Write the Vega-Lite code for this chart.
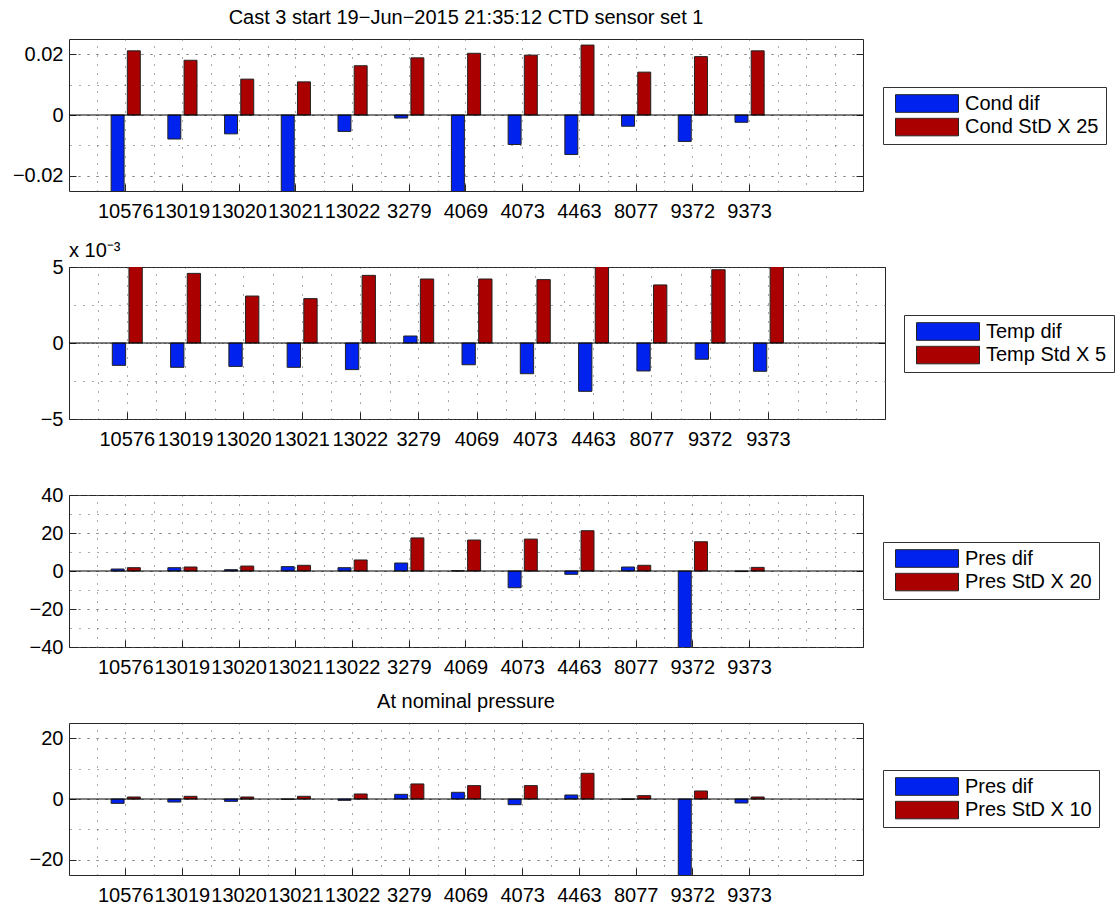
{
  "$schema": "https://vega.github.io/schema/vega-lite/v6.json",
  "padding": {"left": 11, "top": 7, "right": 5, "bottom": 5},
  "bounds": "flush",
  "spacing": 76,
  "config": {
    "font": "Liberation Sans",
    "view": {"stroke": "#262626", "strokeWidth": 1},
    "axis": {
      "domain": false,
      "labelFont": "Liberation Sans",
      "labelFontSize": 20,
      "labelColor": "#000",
      "tickColor": "#262626",
      "tickSize": -7,
      "tickWidth": 1,
      "gridColor": "#555",
      "gridDash": [1, 8],
      "gridWidth": 1,
      "gridOpacity": 1
    },
    "title": {"font": "Liberation Sans", "fontSize": 20, "fontWeight": "normal", "color": "#000"},
    "legend": {
      "symbolType": "M-1,-0.28H1V0.28H-1Z",
      "symbolSize": 3969,
      "symbolStrokeColor": "#222",
      "symbolStrokeWidth": 1,
      "symbolOpacity": 1,
      "symbolOffset": 5,
      "labelFont": "Liberation Sans",
      "labelFontSize": 20,
      "labelColor": "#000",
      "labelOffset": 6,
      "labelLimit": 300,
      "padding": 7,
      "rowPadding": 2.5,
      "clipHeight": 19,
      "strokeColor": "#333",
      "fillColor": "#fff"
    },
    "bar": {"stroke": "#222", "strokeWidth": 1}
  },
  "data": {"values": [
    {"panel": "cond", "sensor": "10576", "kind": "dif", "series": "Cond dif", "value": -0.035},
    {"panel": "cond", "sensor": "13019", "kind": "dif", "series": "Cond dif", "value": -0.0079},
    {"panel": "cond", "sensor": "13020", "kind": "dif", "series": "Cond dif", "value": -0.0062},
    {"panel": "cond", "sensor": "13021", "kind": "dif", "series": "Cond dif", "value": -0.035},
    {"panel": "cond", "sensor": "13022", "kind": "dif", "series": "Cond dif", "value": -0.0054},
    {"panel": "cond", "sensor": "3279", "kind": "dif", "series": "Cond dif", "value": -0.001},
    {"panel": "cond", "sensor": "4069", "kind": "dif", "series": "Cond dif", "value": -0.035},
    {"panel": "cond", "sensor": "4073", "kind": "dif", "series": "Cond dif", "value": -0.0097},
    {"panel": "cond", "sensor": "4463", "kind": "dif", "series": "Cond dif", "value": -0.013},
    {"panel": "cond", "sensor": "8077", "kind": "dif", "series": "Cond dif", "value": -0.0037},
    {"panel": "cond", "sensor": "9372", "kind": "dif", "series": "Cond dif", "value": -0.0087},
    {"panel": "cond", "sensor": "9373", "kind": "dif", "series": "Cond dif", "value": -0.0024},
    {"panel": "cond", "sensor": "10576", "kind": "std", "series": "Cond StD X 25", "value": 0.0211},
    {"panel": "cond", "sensor": "13019", "kind": "std", "series": "Cond StD X 25", "value": 0.0180},
    {"panel": "cond", "sensor": "13020", "kind": "std", "series": "Cond StD X 25", "value": 0.0118},
    {"panel": "cond", "sensor": "13021", "kind": "std", "series": "Cond StD X 25", "value": 0.0109},
    {"panel": "cond", "sensor": "13022", "kind": "std", "series": "Cond StD X 25", "value": 0.0162},
    {"panel": "cond", "sensor": "3279", "kind": "std", "series": "Cond StD X 25", "value": 0.0188},
    {"panel": "cond", "sensor": "4069", "kind": "std", "series": "Cond StD X 25", "value": 0.0203},
    {"panel": "cond", "sensor": "4073", "kind": "std", "series": "Cond StD X 25", "value": 0.0197},
    {"panel": "cond", "sensor": "4463", "kind": "std", "series": "Cond StD X 25", "value": 0.0230},
    {"panel": "cond", "sensor": "8077", "kind": "std", "series": "Cond StD X 25", "value": 0.0141},
    {"panel": "cond", "sensor": "9372", "kind": "std", "series": "Cond StD X 25", "value": 0.0192},
    {"panel": "cond", "sensor": "9373", "kind": "std", "series": "Cond StD X 25", "value": 0.0211},

    {"panel": "temp", "sensor": "10576", "kind": "dif", "series": "Temp dif", "value": -0.00147},
    {"panel": "temp", "sensor": "13019", "kind": "dif", "series": "Temp dif", "value": -0.0016},
    {"panel": "temp", "sensor": "13020", "kind": "dif", "series": "Temp dif", "value": -0.00154},
    {"panel": "temp", "sensor": "13021", "kind": "dif", "series": "Temp dif", "value": -0.0016},
    {"panel": "temp", "sensor": "13022", "kind": "dif", "series": "Temp dif", "value": -0.00175},
    {"panel": "temp", "sensor": "3279", "kind": "dif", "series": "Temp dif", "value": 0.00046},
    {"panel": "temp", "sensor": "4069", "kind": "dif", "series": "Temp dif", "value": -0.00143},
    {"panel": "temp", "sensor": "4073", "kind": "dif", "series": "Temp dif", "value": -0.00202},
    {"panel": "temp", "sensor": "4463", "kind": "dif", "series": "Temp dif", "value": -0.00318},
    {"panel": "temp", "sensor": "8077", "kind": "dif", "series": "Temp dif", "value": -0.00184},
    {"panel": "temp", "sensor": "9372", "kind": "dif", "series": "Temp dif", "value": -0.00107},
    {"panel": "temp", "sensor": "9373", "kind": "dif", "series": "Temp dif", "value": -0.00186},
    {"panel": "temp", "sensor": "10576", "kind": "std", "series": "Temp Std X 5", "value": 0.0055},
    {"panel": "temp", "sensor": "13019", "kind": "std", "series": "Temp Std X 5", "value": 0.00458},
    {"panel": "temp", "sensor": "13020", "kind": "std", "series": "Temp Std X 5", "value": 0.00309},
    {"panel": "temp", "sensor": "13021", "kind": "std", "series": "Temp Std X 5", "value": 0.00292},
    {"panel": "temp", "sensor": "13022", "kind": "std", "series": "Temp Std X 5", "value": 0.00445},
    {"panel": "temp", "sensor": "3279", "kind": "std", "series": "Temp Std X 5", "value": 0.00421},
    {"panel": "temp", "sensor": "4069", "kind": "std", "series": "Temp Std X 5", "value": 0.00421},
    {"panel": "temp", "sensor": "4073", "kind": "std", "series": "Temp Std X 5", "value": 0.00417},
    {"panel": "temp", "sensor": "4463", "kind": "std", "series": "Temp Std X 5", "value": 0.0055},
    {"panel": "temp", "sensor": "8077", "kind": "std", "series": "Temp Std X 5", "value": 0.00382},
    {"panel": "temp", "sensor": "9372", "kind": "std", "series": "Temp Std X 5", "value": 0.00482},
    {"panel": "temp", "sensor": "9373", "kind": "std", "series": "Temp Std X 5", "value": 0.0055},

    {"panel": "pres20", "sensor": "10576", "kind": "dif", "series": "Pres dif", "value": 1.05},
    {"panel": "pres20", "sensor": "13019", "kind": "dif", "series": "Pres dif", "value": 1.75},
    {"panel": "pres20", "sensor": "13020", "kind": "dif", "series": "Pres dif", "value": 0.7},
    {"panel": "pres20", "sensor": "13021", "kind": "dif", "series": "Pres dif", "value": 2.3},
    {"panel": "pres20", "sensor": "13022", "kind": "dif", "series": "Pres dif", "value": 1.75},
    {"panel": "pres20", "sensor": "3279", "kind": "dif", "series": "Pres dif", "value": 4.2},
    {"panel": "pres20", "sensor": "4069", "kind": "dif", "series": "Pres dif", "value": 0.1},
    {"panel": "pres20", "sensor": "4073", "kind": "dif", "series": "Pres dif", "value": -8.8},
    {"panel": "pres20", "sensor": "4463", "kind": "dif", "series": "Pres dif", "value": -1.75},
    {"panel": "pres20", "sensor": "8077", "kind": "dif", "series": "Pres dif", "value": 2.1},
    {"panel": "pres20", "sensor": "9372", "kind": "dif", "series": "Pres dif", "value": -60},
    {"panel": "pres20", "sensor": "9373", "kind": "dif", "series": "Pres dif", "value": -0.3},
    {"panel": "pres20", "sensor": "10576", "kind": "std", "series": "Pres StD X 20", "value": 1.75},
    {"panel": "pres20", "sensor": "13019", "kind": "std", "series": "Pres StD X 20", "value": 2.1},
    {"panel": "pres20", "sensor": "13020", "kind": "std", "series": "Pres StD X 20", "value": 2.6},
    {"panel": "pres20", "sensor": "13021", "kind": "std", "series": "Pres StD X 20", "value": 3.0},
    {"panel": "pres20", "sensor": "13022", "kind": "std", "series": "Pres StD X 20", "value": 5.8},
    {"panel": "pres20", "sensor": "3279", "kind": "std", "series": "Pres StD X 20", "value": 17.4},
    {"panel": "pres20", "sensor": "4069", "kind": "std", "series": "Pres StD X 20", "value": 16.3},
    {"panel": "pres20", "sensor": "4073", "kind": "std", "series": "Pres StD X 20", "value": 16.8},
    {"panel": "pres20", "sensor": "4463", "kind": "std", "series": "Pres StD X 20", "value": 21.2},
    {"panel": "pres20", "sensor": "8077", "kind": "std", "series": "Pres StD X 20", "value": 3.0},
    {"panel": "pres20", "sensor": "9372", "kind": "std", "series": "Pres StD X 20", "value": 15.4},
    {"panel": "pres20", "sensor": "9373", "kind": "std", "series": "Pres StD X 20", "value": 1.9},

    {"panel": "pres10", "sensor": "10576", "kind": "dif", "series": "Pres dif", "value": -1.43},
    {"panel": "pres10", "sensor": "13019", "kind": "dif", "series": "Pres dif", "value": -1.0},
    {"panel": "pres10", "sensor": "13020", "kind": "dif", "series": "Pres dif", "value": -0.77},
    {"panel": "pres10", "sensor": "13021", "kind": "dif", "series": "Pres dif", "value": -0.1},
    {"panel": "pres10", "sensor": "13022", "kind": "dif", "series": "Pres dif", "value": -0.44},
    {"panel": "pres10", "sensor": "3279", "kind": "dif", "series": "Pres dif", "value": 1.54},
    {"panel": "pres10", "sensor": "4069", "kind": "dif", "series": "Pres dif", "value": 2.2},
    {"panel": "pres10", "sensor": "4073", "kind": "dif", "series": "Pres dif", "value": -1.87},
    {"panel": "pres10", "sensor": "4463", "kind": "dif", "series": "Pres dif", "value": 1.32},
    {"panel": "pres10", "sensor": "8077", "kind": "dif", "series": "Pres dif", "value": -0.1},
    {"panel": "pres10", "sensor": "9372", "kind": "dif", "series": "Pres dif", "value": -35},
    {"panel": "pres10", "sensor": "9373", "kind": "dif", "series": "Pres dif", "value": -1.32},
    {"panel": "pres10", "sensor": "10576", "kind": "std", "series": "Pres StD X 10", "value": 0.66},
    {"panel": "pres10", "sensor": "13019", "kind": "std", "series": "Pres StD X 10", "value": 0.88},
    {"panel": "pres10", "sensor": "13020", "kind": "std", "series": "Pres StD X 10", "value": 0.66},
    {"panel": "pres10", "sensor": "13021", "kind": "std", "series": "Pres StD X 10", "value": 0.88},
    {"panel": "pres10", "sensor": "13022", "kind": "std", "series": "Pres StD X 10", "value": 1.65},
    {"panel": "pres10", "sensor": "3279", "kind": "std", "series": "Pres StD X 10", "value": 4.95},
    {"panel": "pres10", "sensor": "4069", "kind": "std", "series": "Pres StD X 10", "value": 4.4},
    {"panel": "pres10", "sensor": "4073", "kind": "std", "series": "Pres StD X 10", "value": 4.4},
    {"panel": "pres10", "sensor": "4463", "kind": "std", "series": "Pres StD X 10", "value": 8.46},
    {"panel": "pres10", "sensor": "8077", "kind": "std", "series": "Pres StD X 10", "value": 1.1},
    {"panel": "pres10", "sensor": "9372", "kind": "std", "series": "Pres StD X 10", "value": 2.64},
    {"panel": "pres10", "sensor": "9373", "kind": "std", "series": "Pres StD X 10", "value": 0.66}
  ]},
  "resolve": {
    "scale": {"x": "independent", "y": "independent", "color": "independent", "xOffset": "independent"},
    "legend": {"color": "independent"}
  },
  "vconcat": [
    {
      "width": 794, "height": 152,
      "title": {"text": "Cast 3 start 19−Jun−2015 21:35:12 CTD sensor set 1", "anchor": "middle", "frame": "group", "baseline": "alphabetic", "offset": -5},
      "transform": [{"filter": "datum.panel == 'cond'"}],
      "resolve": {"axis": {"x": "independent", "y": "independent"}},
      "layer": [
        {
          "transform": [{"filter": "datum.kind == 'dif'"}],
          "mark": {"type": "bar", "clip": true},
          "encoding": {
            "x": {"field": "sensor", "type": "nominal", "scale": {"domain": ["10576","13019","13020","13021","13022","3279","4069","4073","4463","8077","9372","9373"," "], "paddingInner": 0, "paddingOuter": 0.5},
              "axis": {"orient": "bottom", "title": null, "labelAngle": 0, "labelPadding": 17, "labelOverlap": false, "labelBound": false, "labelFlush": false, "grid": true, "tickBand": "center", "tickOpacity": {"condition": {"test": "datum.value === ' '", "value": 0}, "value": 1}}},
            "xOffset": {"field": "kind", "type": "nominal", "scale": {"domain": ["dif", "std"], "paddingInner": 0.2, "paddingOuter": 0.85}},
            "y": {"field": "value", "type": "quantitative", "scale": {"domain": [-0.025, 0.025], "nice": false, "zero": false},
              "axis": {"orient": "left", "title": null, "values": [-0.02, 0, 0.02], "grid": true, "labelPadding": 13, "labelExpr": "datum.value == 0 ? '0' : format(datum.value, '.2f')"}},
            "color": {"field": "series", "type": "nominal", "scale": {"domain": ["Cond dif", "Cond StD X 25"], "range": ["#0022EE", "#AA0000"]},
              "legend": {"title": null, "orient": "none", "legendX": 814, "legendY": 48}}
          }
        },
        {
          "transform": [{"filter": "datum.kind == 'std'"}],
          "mark": {"type": "bar", "clip": true},
          "encoding": {
            "x": {"field": "sensor", "type": "nominal", "scale": {"domain": ["10576","13019","13020","13021","13022","3279","4069","4073","4463","8077","9372","9373"," "], "paddingInner": 0, "paddingOuter": 0.5},
              "axis": {"orient": "top", "title": null, "labels": false, "ticks": false, "grid": true, "tickBand": "extent"}},
            "xOffset": {"field": "kind", "type": "nominal", "scale": {"domain": ["dif", "std"], "paddingInner": 0.2, "paddingOuter": 0.85}},
            "y": {"field": "value", "type": "quantitative", "scale": {"domain": [-0.025, 0.025], "nice": false, "zero": false},
              "axis": {"orient": "right", "title": null, "labels": false, "values": [-0.02, -0.01, 0, 0.01, 0.02], "grid": true, "tickOpacity": {"condition": {"test": "abs(datum.value) < 0.005 || abs(datum.value) > 0.015", "value": 1}, "value": 0}}},
            "color": {"field": "series", "type": "nominal", "scale": {"domain": ["Cond dif", "Cond StD X 25"], "range": ["#0022EE", "#AA0000"]},
              "legend": {"title": null, "orient": "none", "legendX": 814, "legendY": 48}}
          }
        },
        {
          "data": {"values": [{}]},
          "mark": {"type": "rule", "color": "#000", "strokeWidth": 1},
          "encoding": {"y": {"datum": 0, "type": "quantitative", "axis": null}}
        }
      ]
    },
    {
      "width": 816, "height": 152,
      "title": {"text": "x 10⁻³", "anchor": "start", "frame": "group", "baseline": "alphabetic", "offset": -20},
      "transform": [{"filter": "datum.panel == 'temp'"}],
      "resolve": {"axis": {"x": "independent", "y": "independent"}},
      "layer": [
        {
          "transform": [{"filter": "datum.kind == 'dif'"}],
          "mark": {"type": "bar", "clip": true},
          "encoding": {
            "x": {"field": "sensor", "type": "nominal", "scale": {"domain": ["10576","13019","13020","13021","13022","3279","4069","4073","4463","8077","9372","9373"," "], "paddingInner": 0, "paddingOuter": 0.5},
              "axis": {"orient": "bottom", "title": null, "labelAngle": 0, "labelPadding": 17, "labelOverlap": false, "labelBound": false, "labelFlush": false, "grid": true, "tickBand": "center", "tickOpacity": {"condition": {"test": "datum.value === ' '", "value": 0}, "value": 1}}},
            "xOffset": {"field": "kind", "type": "nominal", "scale": {"domain": ["dif", "std"], "paddingInner": 0.2, "paddingOuter": 0.85}},
            "y": {"field": "value", "type": "quantitative", "scale": {"domain": [-0.005, 0.005], "nice": false, "zero": false},
              "axis": {"orient": "left", "title": null, "values": [-0.005, 0, 0.005], "grid": true, "labelPadding": 13, "labelExpr": "format(datum.value * 1000, 'd')"}},
            "color": {"field": "series", "type": "nominal", "scale": {"domain": ["Temp dif", "Temp Std X 5"], "range": ["#0022EE", "#AA0000"]},
              "legend": {"title": null, "orient": "none", "legendX": 835, "legendY": 48}}
          }
        },
        {
          "transform": [{"filter": "datum.kind == 'std'"}],
          "mark": {"type": "bar", "clip": true},
          "encoding": {
            "x": {"field": "sensor", "type": "nominal", "scale": {"domain": ["10576","13019","13020","13021","13022","3279","4069","4073","4463","8077","9372","9373"," "], "paddingInner": 0, "paddingOuter": 0.5},
              "axis": {"orient": "top", "title": null, "labels": false, "ticks": false, "grid": true, "tickBand": "extent"}},
            "xOffset": {"field": "kind", "type": "nominal", "scale": {"domain": ["dif", "std"], "paddingInner": 0.2, "paddingOuter": 0.85}},
            "y": {"field": "value", "type": "quantitative", "scale": {"domain": [-0.005, 0.005], "nice": false, "zero": false},
              "axis": {"orient": "right", "title": null, "labels": false, "values": [-0.005, -0.0025, 0, 0.0025, 0.005], "grid": true, "tickOpacity": {"condition": {"test": "abs(datum.value) < 0.001 || abs(datum.value) > 0.004", "value": 1}, "value": 0}}},
            "color": {"field": "series", "type": "nominal", "scale": {"domain": ["Temp dif", "Temp Std X 5"], "range": ["#0022EE", "#AA0000"]},
              "legend": {"title": null, "orient": "none", "legendX": 835, "legendY": 48}}
          }
        },
        {
          "data": {"values": [{}]},
          "mark": {"type": "rule", "color": "#000", "strokeWidth": 1},
          "encoding": {"y": {"datum": 0, "type": "quantitative", "axis": null}}
        }
      ]
    },
    {
      "width": 794, "height": 152,
      "transform": [{"filter": "datum.panel == 'pres20'"}],
      "resolve": {"axis": {"x": "independent", "y": "independent"}},
      "layer": [
        {
          "transform": [{"filter": "datum.kind == 'dif'"}],
          "mark": {"type": "bar", "clip": true},
          "encoding": {
            "x": {"field": "sensor", "type": "nominal", "scale": {"domain": ["10576","13019","13020","13021","13022","3279","4069","4073","4463","8077","9372","9373"," "], "paddingInner": 0, "paddingOuter": 0.5},
              "axis": {"orient": "bottom", "title": null, "labelAngle": 0, "labelPadding": 17, "labelOverlap": false, "labelBound": false, "labelFlush": false, "grid": true, "tickBand": "center", "tickOpacity": {"condition": {"test": "datum.value === ' '", "value": 0}, "value": 1}}},
            "xOffset": {"field": "kind", "type": "nominal", "scale": {"domain": ["dif", "std"], "paddingInner": 0.2, "paddingOuter": 0.85}},
            "y": {"field": "value", "type": "quantitative", "scale": {"domain": [-40, 40], "nice": false, "zero": false},
              "axis": {"orient": "left", "title": null, "values": [-40, -20, 0, 20, 40], "grid": true, "labelPadding": 13, "format": "d"}},
            "color": {"field": "series", "type": "nominal", "scale": {"domain": ["Pres dif", "Pres StD X 20"], "range": ["#0022EE", "#AA0000"]},
              "legend": {"title": null, "orient": "none", "legendX": 814, "legendY": 47}}
          }
        },
        {
          "transform": [{"filter": "datum.kind == 'std'"}],
          "mark": {"type": "bar", "clip": true},
          "encoding": {
            "x": {"field": "sensor", "type": "nominal", "scale": {"domain": ["10576","13019","13020","13021","13022","3279","4069","4073","4463","8077","9372","9373"," "], "paddingInner": 0, "paddingOuter": 0.5},
              "axis": {"orient": "top", "title": null, "labels": false, "ticks": false, "grid": true, "tickBand": "extent"}},
            "xOffset": {"field": "kind", "type": "nominal", "scale": {"domain": ["dif", "std"], "paddingInner": 0.2, "paddingOuter": 0.85}},
            "y": {"field": "value", "type": "quantitative", "scale": {"domain": [-40, 40], "nice": false, "zero": false},
              "axis": {"orient": "right", "title": null, "labels": false, "values": [-40, -30, -20, -10, 0, 10, 20, 30, 40], "grid": true, "tickOpacity": {"condition": {"test": "datum.value % 20 == 0", "value": 1}, "value": 0}}},
            "color": {"field": "series", "type": "nominal", "scale": {"domain": ["Pres dif", "Pres StD X 20"], "range": ["#0022EE", "#AA0000"]},
              "legend": {"title": null, "orient": "none", "legendX": 814, "legendY": 47}}
          }
        },
        {
          "data": {"values": [{}]},
          "mark": {"type": "rule", "color": "#000", "strokeWidth": 1},
          "encoding": {"y": {"datum": 0, "type": "quantitative", "axis": null}}
        }
      ]
    },
    {
      "width": 794, "height": 152,
      "title": {"text": "At nominal pressure", "anchor": "middle", "frame": "group", "baseline": "alphabetic", "offset": -5},
      "transform": [{"filter": "datum.panel == 'pres10'"}],
      "resolve": {"axis": {"x": "independent", "y": "independent"}},
      "layer": [
        {
          "transform": [{"filter": "datum.kind == 'dif'"}],
          "mark": {"type": "bar", "clip": true},
          "encoding": {
            "x": {"field": "sensor", "type": "nominal", "scale": {"domain": ["10576","13019","13020","13021","13022","3279","4069","4073","4463","8077","9372","9373"," "], "paddingInner": 0, "paddingOuter": 0.5},
              "axis": {"orient": "bottom", "title": null, "labelAngle": 0, "labelPadding": 17, "labelOverlap": false, "labelBound": false, "labelFlush": false, "grid": true, "tickBand": "center", "tickOpacity": {"condition": {"test": "datum.value === ' '", "value": 0}, "value": 1}}},
            "xOffset": {"field": "kind", "type": "nominal", "scale": {"domain": ["dif", "std"], "paddingInner": 0.2, "paddingOuter": 0.85}},
            "y": {"field": "value", "type": "quantitative", "scale": {"domain": [-25, 25], "nice": false, "zero": false},
              "axis": {"orient": "left", "title": null, "values": [-20, 0, 20], "grid": true, "labelPadding": 13, "format": "d"}},
            "color": {"field": "series", "type": "nominal", "scale": {"domain": ["Pres dif", "Pres StD X 10"], "range": ["#0022EE", "#AA0000"]},
              "legend": {"title": null, "orient": "none", "legendX": 814, "legendY": 47}}
          }
        },
        {
          "transform": [{"filter": "datum.kind == 'std'"}],
          "mark": {"type": "bar", "clip": true},
          "encoding": {
            "x": {"field": "sensor", "type": "nominal", "scale": {"domain": ["10576","13019","13020","13021","13022","3279","4069","4073","4463","8077","9372","9373"," "], "paddingInner": 0, "paddingOuter": 0.5},
              "axis": {"orient": "top", "title": null, "labels": false, "ticks": false, "grid": true, "tickBand": "extent"}},
            "xOffset": {"field": "kind", "type": "nominal", "scale": {"domain": ["dif", "std"], "paddingInner": 0.2, "paddingOuter": 0.85}},
            "y": {"field": "value", "type": "quantitative", "scale": {"domain": [-25, 25], "nice": false, "zero": false},
              "axis": {"orient": "right", "title": null, "labels": false, "values": [-20, -10, 0, 10, 20], "grid": true, "tickOpacity": {"condition": {"test": "datum.value % 20 == 0", "value": 1}, "value": 0}}},
            "color": {"field": "series", "type": "nominal", "scale": {"domain": ["Pres dif", "Pres StD X 10"], "range": ["#0022EE", "#AA0000"]},
              "legend": {"title": null, "orient": "none", "legendX": 814, "legendY": 47}}
          }
        },
        {
          "data": {"values": [{}]},
          "mark": {"type": "rule", "color": "#000", "strokeWidth": 1},
          "encoding": {"y": {"datum": 0, "type": "quantitative", "axis": null}}
        }
      ]
    }
  ]
}
